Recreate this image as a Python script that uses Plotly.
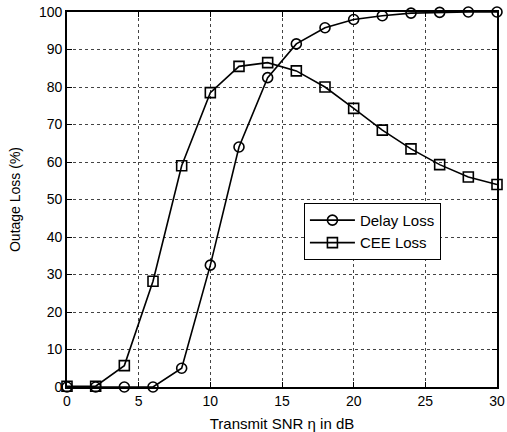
import plotly.graph_objects as go

snr = [0, 2, 4, 6, 8, 10, 12, 14, 16, 18, 20, 22, 24, 26, 28, 30]
delay_loss = [0, 0, 0, 0, 5.0, 32.5, 64.0, 82.5, 91.5, 95.8, 98.0, 99.0, 99.7, 99.9, 100, 100]
cee_loss = [0.2, 0.2, 5.7, 28.2, 59.0, 78.5, 85.5, 86.5, 84.3, 80.0, 74.3, 68.5, 63.5, 59.3, 56.0, 54.0]

x_ticks = [0, 5, 10, 15, 20, 25, 30]
y_ticks = [0, 10, 20, 30, 40, 50, 60, 70, 80, 90, 100]

fig = go.Figure()
fig.add_trace(go.Scatter(
    x=snr, y=delay_loss, name="Delay Loss", mode="lines+markers",
    line=dict(color="black", width=1.6),
    marker=dict(symbol="circle-open", size=10, color="black", line=dict(width=1.6)),
    cliponaxis=False,
))
fig.add_trace(go.Scatter(
    x=snr, y=cee_loss, name="CEE Loss", mode="lines+markers",
    line=dict(color="black", width=1.6),
    marker=dict(symbol="square-open", size=10, color="black", line=dict(width=1.6)),
    cliponaxis=False,
))

axis_common = dict(
    showline=True, linecolor="black", linewidth=1.6, mirror="ticks",
    ticks="inside", ticklen=5, tickcolor="black",
    showgrid=True, gridcolor="#444444", griddash="dot", gridwidth=1,
    zeroline=False, automargin=False,
    tickfont=dict(family="Liberation Sans, Arial", size=14, color="black"),
)

fig.update_layout(
    width=507, height=432,
    margin=dict(l=67, r=10, t=12, b=45, autoexpand=False),
    paper_bgcolor="white", plot_bgcolor="white",
    font=dict(family="Liberation Sans, Arial", size=14, color="black"),
    xaxis=dict(range=[0, 30], tickvals=x_ticks,
               title=dict(text="Transmit SNR η in dB", font=dict(size=15)),
               **axis_common),
    yaxis=dict(range=[0, 100], tickvals=y_ticks,
               title=dict(text="Outage Loss (%)", font=dict(size=14)),
               **axis_common),
    legend=dict(x=0.551, y=0.491, xanchor="left", yanchor="top",
                bordercolor="black", borderwidth=1, bgcolor="white",
                font=dict(size=15), tracegroupgap=0, itemwidth=45),
    showlegend=True,
)

fig.write_html("out.html", config={"displayModeBar": False},
               post_script="document.body.style.margin='0';document.body.style.overflow='hidden';")
